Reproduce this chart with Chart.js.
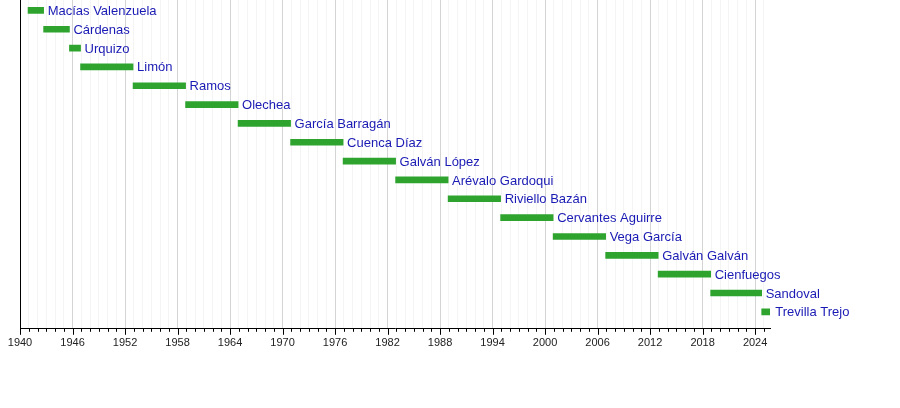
<!DOCTYPE html>
<html>
<head>
<meta charset="utf-8">
<script src="https://cdn.jsdelivr.net/npm/chart.js@4"></script>
<style>
  body { margin: 0; background: #fff; }
  #wrap { width: 900px; height: 408px; }
</style>
</head>
<body>
<div id="wrap"><canvas id="timeline"></canvas></div>
<script>
// secretaries and their terms (decimal years)
const names = ["Macías Valenzuela", "Cárdenas", "Urquizo", "Limón", "Ramos", "Olechea",
  "García Barragán", "Cuenca Díaz", "Galván López", "Arévalo Gardoqui", "Riviello Bazán",
  "Cervantes Aguirre", "Vega García", "Galván Galván", "Cienfuegos", "Sandoval", "Trevilla Trejo"];
const termStart = [1940.92, 1942.7, 1945.65, 1946.92, 1952.92, 1958.92, 1964.92, 1970.92,
  1976.92, 1982.92, 1988.92, 1994.92, 2000.92, 2006.92, 2012.92, 2018.92, 2024.75];
const termEnd = [1942.7, 1945.65, 1946.92, 1952.92, 1958.92, 1964.92, 1970.92, 1976.92,
  1982.92, 1988.92, 1994.92, 2000.92, 2006.92, 2012.92, 2018.92, 2024.75, 2025.85];
const yearMin = 1940;
const yearMax = 2025.7;
const majorStep = 6;

const isMajor = v => (v - yearMin) % majorStep === 0;

// names drawn right of each bar
const barLabels = {
  id: 'barLabels',
  afterDatasetsDraw(chart) {
    const ctx = chart.ctx;
    const meta = chart.getDatasetMeta(0);
    ctx.save();
    ctx.font = '13px "Liberation Sans", Arial, sans-serif';
    ctx.fillStyle = '#1a1ab4';
    ctx.textBaseline = 'middle';
    meta.data.forEach((bar, i) => {
      ctx.fillText(names[i], bar.x + 4, bar.y + 1);
    });
    ctx.restore();
  }
};

// year tick marks: long on majors, short on minors
const yearTicks = {
  id: 'yearTicks',
  afterDraw(chart) {
    const sc = chart.scales.x;
    const ctx = chart.ctx;
    ctx.save();
    ctx.strokeStyle = '#000';
    ctx.lineWidth = 1;
    sc.ticks.forEach(t => {
      const px = Math.round(sc.getPixelForValue(t.value)) + 0.5;
      const len = isMajor(t.value) ? 6 : 3;
      ctx.beginPath();
      ctx.moveTo(px, sc.top);
      ctx.lineTo(px, sc.top + len);
      ctx.stroke();
    });
    ctx.restore();
  }
};

new Chart(document.getElementById('timeline'), {
  type: 'bar',
  data: {
    datasets: [{
      data: names.map((n, i) => ({ x: [termStart[i], termEnd[i]], y: i })),
      backgroundColor: '#2ea32e',
      barThickness: 6,
      borderSkipped: false
    }]
  },
  options: {
    indexAxis: 'y',
    responsive: true,
    maintainAspectRatio: false,
    animation: false,
    layout: { padding: { left: 12, right: 130, top: 0, bottom: 56 } },
    plugins: { legend: { display: false }, tooltip: { enabled: false } },
    scales: {
      x: {
        type: 'linear',
        min: yearMin,
        max: yearMax,
        grid: {
          color: ctx => isMajor(ctx.tick.value) ? '#d4d4d4' : '#f4f4f4',
          tickLength: 6,
          tickColor: 'rgba(0,0,0,0)'
        },
        border: { color: '#000', width: 1 },
        ticks: {
          stepSize: 1,
          autoSkip: false,
          includeBounds: false,
          maxRotation: 0,
          padding: 2,
          color: '#222',
          font: { family: '"Liberation Sans", Arial, sans-serif', size: 11 },
          callback: v => isMajor(v) ? String(v) : ''
        }
      },
      y: {
        type: 'linear',
        reverse: true,
        offset: false,
        min: -0.55,
        max: 16.9,
        grid: { display: false, offset: false },
        border: { color: '#000', width: 1 },
        ticks: { display: false }
      }
    }
  },
  plugins: [barLabels, yearTicks]
});
</script>
</body>
</html>
